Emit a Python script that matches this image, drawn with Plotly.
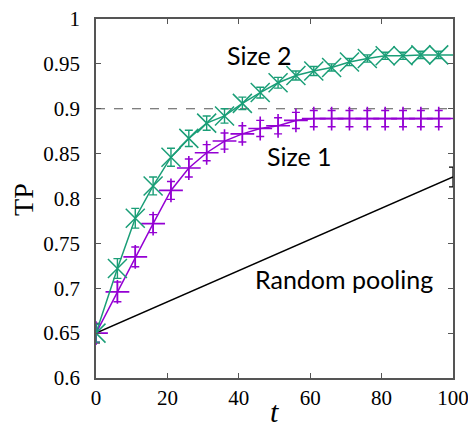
import plotly.graph_objects as go

# ---- data ----
t_pts = [0, 6, 11, 16, 21, 26, 31, 36, 41, 46, 51, 56, 61, 66, 71, 76, 81, 86, 91, 96]
size2 = [0.650, 0.722, 0.778, 0.814, 0.846, 0.867, 0.884, 0.892, 0.906, 0.918, 0.929, 0.937,
         0.942, 0.946, 0.952, 0.956, 0.959, 0.959, 0.960, 0.960]
size2_err = [0.010, 0.011, 0.011, 0.010, 0.010, 0.009, 0.008, 0.008, 0.007, 0.006, 0.006, 0.005,
             0.005, 0.004, 0.004, 0.004, 0.004, 0.004, 0.004, 0.004]
size1 = [0.650, 0.696, 0.735, 0.772, 0.809, 0.834, 0.851, 0.864, 0.872, 0.878, 0.881, 0.887,
         0.889, 0.889, 0.889, 0.889, 0.889, 0.889, 0.889, 0.889]
size1_err = [0.010, 0.011, 0.011, 0.010, 0.010, 0.010, 0.009, 0.009, 0.009, 0.009, 0.009, 0.009,
             0.009, 0.009, 0.009, 0.009, 0.009, 0.009, 0.009, 0.009]
t_end = 100
size2_end = 0.960
size1_end = 0.889

random_t = [0, 100]
random_tp = [0.650, 0.824]
random_err = [0.011, 0.011]

threshold = 0.9

x_ticks = [0, 20, 40, 60, 80, 100]
y_ticks = [0.6, 0.65, 0.7, 0.75, 0.8, 0.85, 0.9, 0.95, 1.0]

GREEN = "#1a9e77"
PURPLE = "#9400d3"
AX = "#555555"

fig = go.Figure()

# threshold dashed line
fig.add_trace(go.Scatter(x=[0, 100], y=[threshold, threshold], mode="lines",
                         line=dict(color=AX, width=1.2, dash="dash"),
                         hoverinfo="skip", showlegend=False))

# random pooling
fig.add_trace(go.Scatter(x=random_t, y=random_tp, mode="lines",
                         line=dict(color="black", width=1.5),
                         error_y=dict(type="data", array=random_err, color="black",
                                      thickness=1.2, width=4),
                         showlegend=False))

# size 1 lines (extend to right frame)
fig.add_trace(go.Scatter(x=t_pts + [t_end], y=size1 + [size1_end], mode="lines",
                         line=dict(color=PURPLE, width=1.5), showlegend=False))
fig.add_trace(go.Scatter(x=t_pts, y=size1, mode="markers",
                         marker=dict(symbol="cross-thin", size=17,
                                     line=dict(color=PURPLE, width=1.6)),
                         error_y=dict(type="data", array=size1_err, color=PURPLE,
                                      thickness=1.4, width=4),
                         showlegend=False))

# size 2
fig.add_trace(go.Scatter(x=t_pts + [t_end], y=size2 + [size2_end], mode="lines",
                         line=dict(color=GREEN, width=1.5), showlegend=False))
fig.add_trace(go.Scatter(x=t_pts, y=size2, mode="markers",
                         marker=dict(symbol="x-thin", size=19,
                                     line=dict(color=GREEN, width=1.5)),
                         error_y=dict(type="data", array=size2_err, color=GREEN,
                                      thickness=1.4, width=4),
                         showlegend=False))

label_font = dict(family="Lato, Open Sans, sans-serif", size=25, color="black")
fig.add_annotation(x=45.7, y=0.960, text="Size 2", showarrow=False, font=label_font,
                   xref="x", yref="y")
fig.add_annotation(x=57.1, y=0.847, text="Size 1", showarrow=False, font=label_font,
                   xref="x", yref="y")
fig.add_annotation(x=69.5, y=0.710, text="Random pooling", showarrow=False, font=label_font,
                   xref="x", yref="y")

# axis titles
fig.add_annotation(x=0.5, y=0, xref="paper", yref="paper", yshift=-52, yanchor="bottom",
                   text="<i>t</i>", showarrow=False,
                   font=dict(family="Liberation Serif, serif", size=30, color="black"))
fig.add_annotation(x=0, y=0.496, xref="paper", yref="paper", xshift=-72, xanchor="center",
                   textangle=-90, text="TP", showarrow=False,
                   font=dict(family="Liberation Serif, serif", size=28, color="black"))

tick_font = dict(family="Liberation Serif, Times New Roman, serif", size=21, color="black")

fig.update_xaxes(range=[0, 100], tickvals=x_ticks, ticks="inside", ticklen=5,
                 tickcolor=AX, showline=True, linecolor=AX, linewidth=1.5, mirror="ticks",
                 showgrid=False, zeroline=False, tickfont=tick_font, automargin=False,
                 ticklabeloverflow="allow")
fig.update_yaxes(range=[0.6, 1.0], tickvals=y_ticks, ticks="inside", ticklen=5,
                 tickcolor=AX, showline=True, linecolor=AX, linewidth=1.5, mirror="ticks",
                 showgrid=False, zeroline=False, tickfont=tick_font, automargin=False,
                 ticklabelstandoff=10, ticklabeloverflow="allow")

# page body has an 8px margin, so the figure is offset by 8px
fig.update_layout(width=468, height=422,
                  margin=dict(l=88, r=23, t=11, b=52),
                  paper_bgcolor="white", plot_bgcolor="white")

fig.write_html("out.html")
